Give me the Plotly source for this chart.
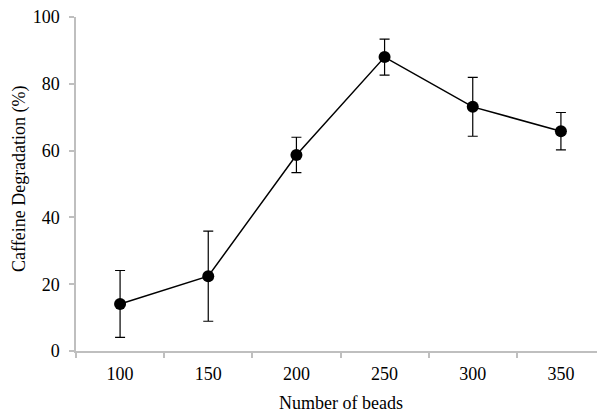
import plotly.graph_objects as go

beads = ["100", "150", "200", "250", "300", "350"]
degradation = [14.1, 22.4, 58.7, 88.0, 73.1, 65.8]
error = [10.0, 13.5, 5.3, 5.4, 8.8, 5.6]
y_ticks = [0, 20, 40, 60, 80, 100]

font_family = "Liberation Serif, Times New Roman, serif"

fig = go.Figure()
fig.add_trace(go.Scatter(
    x=beads, y=degradation,
    mode="lines+markers",
    line=dict(color="black", width=1.5),
    marker=dict(color="black", size=12),
    error_y=dict(type="data", array=error, visible=True,
                 color="black", thickness=1.2, width=5),
    showlegend=False,
))

fig.update_layout(
    width=597, height=407,
    margin=dict(l=68, r=0, t=9, b=64),
    plot_bgcolor="white", paper_bgcolor="white",
    font=dict(family=font_family, size=18, color="black"),
    xaxis=dict(
        type="category", range=[-0.5, 5.5],
        tickson="boundaries", ticks="outside", ticklen=5,
        tickcolor="#bfbfbf", tickwidth=1.5,
        showline=True, linecolor="#bfbfbf", linewidth=1.5,
        showgrid=False, zeroline=False,
        tickfont=dict(family=font_family, size=18),
        ticklabelstandoff=6,
    ),
    yaxis=dict(
        range=[0, 100], tickvals=y_ticks,
        ticks="outside", ticklen=5, tickcolor="#bfbfbf", tickwidth=1.5,
        showline=True, linecolor="#bfbfbf", linewidth=1.5,
        showgrid=False, zeroline=False,
        tickfont=dict(family=font_family, size=18),
        ticklabelstandoff=6, ticklabeloverflow="allow",
    ),
    annotations=[
        dict(text="Number of beads", xref="paper", yref="paper",
             x=0.5, y=0, yshift=-52, xanchor="center", yanchor="middle",
             showarrow=False,
             font=dict(family=font_family, size=18)),
        dict(text="Caffeine Degradation (%)", xref="paper", yref="paper",
             x=0, y=0.5, xshift=-57, yshift=5, textangle=-90,
             xanchor="center", yanchor="middle", showarrow=False,
             font=dict(family=font_family, size=18)),
    ],
)

fig.write_html("out.html")
